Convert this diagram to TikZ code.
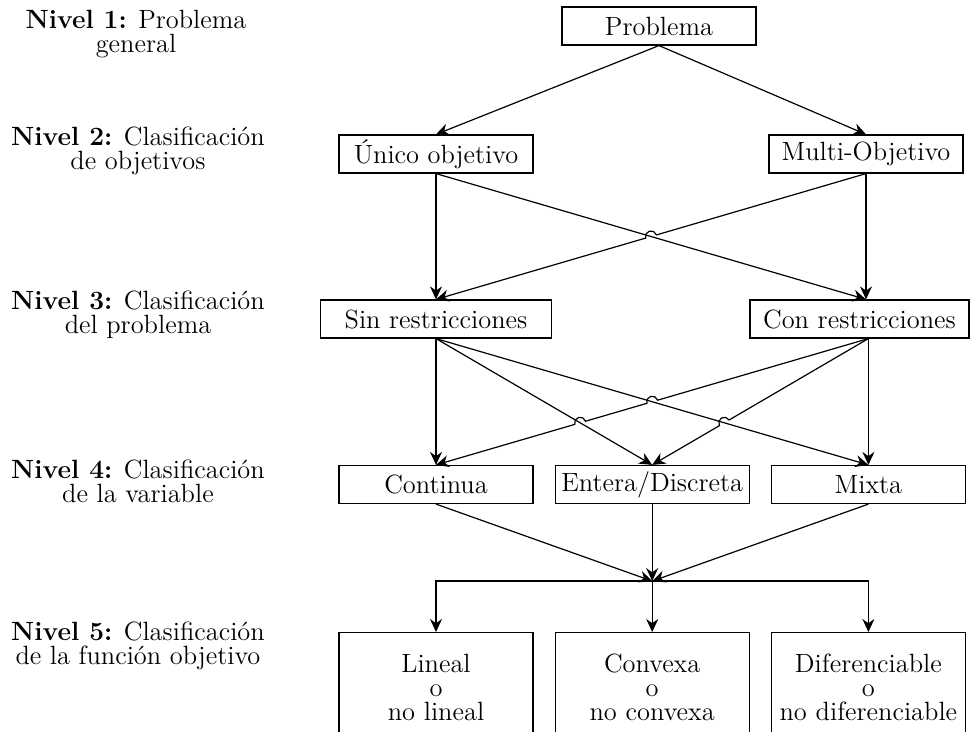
\documentclass[tikz,border=0pt]{standalone}
\usepackage{tikz}
\usetikzlibrary{arrows.meta, positioning, calc}

\begin{document}
\begin{tikzpicture}[
        x=0.5pt, y=0.5pt,
        font=\fontsize{13.2}{11.9}\selectfont,
        >={Stealth[length=6.5pt, width=6pt]},
        box/.style={rectangle, draw, semithick, minimum width=97pt, minimum height=19pt, inner sep=2pt},
        widebox/.style={box, minimum width=115.5pt},
        optbox/.style={box, anchor=north, text width=95pt, align=center, minimum height=55pt, inner sep=1pt},
        level/.style={align=center},
        link/.style={->, semithick}
    ]
        \useasboundingbox (0,0) rectangle (971,-732);

        % Niveles
        \node[level] (niv1) at (136,-34) {\textbf{Nivel 1:} Problema\\general};
        \node[level] (niv2) at (138,-151) {\textbf{Nivel 2:} Clasificación\\de objetivos};
        \node[level] (niv3) at (138,-315) {\textbf{Nivel 3:} Clasificación\\del problema};
        \node[level] (niv4) at (138,-481) {\textbf{Nivel 4:} Clasificación\\de la variable};
        \node[level] (niv5) at (138,-646) {\textbf{Nivel 5:} Clasificación\\de la función objetivo};

        % Clasificacion
        \node[box] (prob) at (659,-26) {Problema};
        \node[box] (unico) at (436,-154) {Único objetivo};
        \node[box] (multi) at (866,-154) {Multi-Objetivo};
        \node[widebox] (sin) at (436,-319) {Sin restricciones};
        \node[box, minimum width=109.5pt] (con) at (859.5,-319) {Con restricciones};
        \node[box] (continua) at (436,-484.5) {Continua};
        \node[box, right=10.5pt of continua] (entera) {Entera/Discreta};
        \node[box, right=10.5pt of entera] (mixta) {Mixta};
        \coordinate[below=38.5pt of entera] (merge);
        \node[optbox] (lineal) at (436,-632) {Lineal\\o\\no lineal};
        \node[optbox, right=10.5pt of lineal.north east, anchor=north west] (convexa) {Convexa\\o\\no convexa};
        \node[optbox, right=10.5pt of convexa.north east, anchor=north west] (difer) {Diferenciable\\o\\no diferenciable};

        \coordinate (conN) at (con.north -| multi.south);
        \coordinate (conS) at (con.south -| mixta.north);

        % Crossings
        \coordinate (h0) at (intersection of unico.south--conN and multi.south--sin.north);
        \coordinate (h1) at (intersection of sin.south--mixta.north and conS--continua.north);
        \coordinate (h2) at (intersection of sin.south--entera.north and conS--continua.north);
        \coordinate (h3) at (intersection of sin.south--mixta.north and conS--entera.north);

        % Nivel 1 -> 2
        \draw[link] (prob.south) -- (unico.north);
        \draw[link] (prob.south) -- (multi.north);

        % Nivel 2 -> 3
        \draw[link] (unico.south) -- (sin.north);
        \draw[link] (unico.south) -- (conN);
        \draw[link] (multi.south) -- (conN);
        \draw[link, <-] let \p1=($(multi.south)-(sin.north)$), \n1={atan2(\y1,\x1)} in
            (sin.north) -- ($(h0)!2.8pt!(sin.north)$)
            arc[start angle=\n1+180, end angle=\n1, radius=2.8pt] -- (multi.south);

        % Nivel 3 -> 4
        \draw[link] (sin.south) -- (continua.north);
        \draw[link] (sin.south) -- (entera.north);
        \draw[link] (sin.south) -- (mixta.north);
        \draw[link] (conS) -- (mixta.north);
        \draw[link, <-] let \p1=($(conS)-(entera.north)$), \n1={atan2(\y1,\x1)} in
            (entera.north) -- ($(h3)!2.8pt!(entera.north)$)
            arc[start angle=\n1+180, end angle=\n1, radius=2.8pt] -- (conS);
        \draw[link, <-] let \p1=($(conS)-(continua.north)$), \n1={atan2(\y1,\x1)} in
            (continua.north) -- ($(h2)!2.8pt!(continua.north)$)
            arc[start angle=\n1+180, end angle=\n1, radius=2.8pt]
            -- ($(h1)!2.8pt!(continua.north)$)
            arc[start angle=\n1+180, end angle=\n1, radius=2.8pt] -- (conS);

        % Nivel 4 -> 5
        \draw[link] (continua.south) -- (merge);
        \draw[link] (entera.south) -- (merge);
        \draw[link] (mixta.south) -- (merge);
        \draw[link] (merge) -| (lineal.north);
        \draw[link] (merge) -- (convexa.north);
        \draw[link] (merge) -| (difer.north);

    \end{tikzpicture}
\end{document}
